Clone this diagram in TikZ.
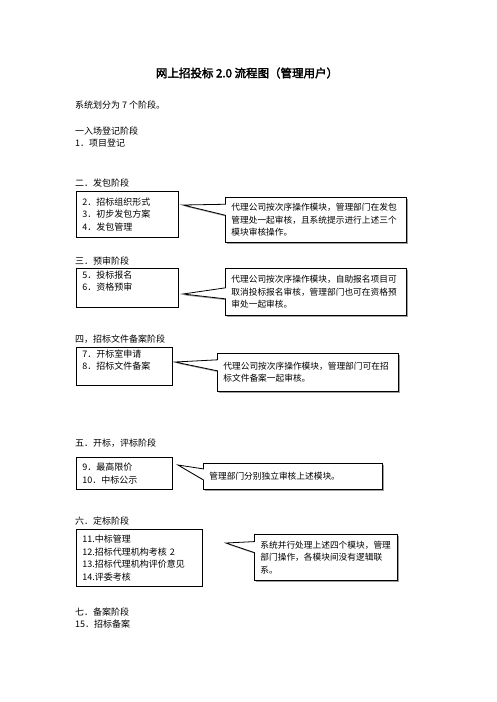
\documentclass[tikz,border=0pt]{standalone}
\usepackage{fontspec}
\newfontfamily\cjk[AutoFakeBold=2.5]{Noto Sans CJK SC}
\usepackage{tikz}
\usetikzlibrary{shapes.callouts, shadows}

\tikzset{
  txt/.style={anchor=west, inner sep=0pt, font=\cjk\fontsize{9}{12.6}\selectfont},
  stagebox/.style={draw, line width=0.9pt, anchor=north west, align=left,
    inner xsep=6pt, inner ysep=2pt, font=\cjk\fontsize{9}{12.6}\selectfont},
  notebox/.style={rectangle callout, draw, line width=0.8pt, fill=white,
    anchor=north west, align=left, inner xsep=6pt, inner ysep=2pt,
    callout pointer width=11pt,
    drop shadow={shadow xshift=1.4pt, shadow yshift=-1.4pt, fill=gray!75, opacity=1},
    font=\cjk\fontsize{8.7}{12.4}\selectfont}
}

\begin{document}
\begin{tikzpicture}[x=1pt, y=-1pt]
  \useasboundingbox (0,0) rectangle (496,702);

  % Title and intro
  \node[anchor=center, font=\cjk\bfseries\fontsize{11.5}{14}\selectfont] (title) at (247,73)
    {网上招投标 2.0 流程图（管理用户）};
  \node[txt] (intro) at (75,105) {系统划分为 7 个阶段。};

  % Stage 1
  \node[txt] (s1) at (75,131) {一入场登记阶段};
  \node[txt] (i1) at (75,143) {1．项目登记};

  % Stage 2
  \node[txt] (s2) at (75,183) {二．发包阶段};
  \node[stagebox, text width=90pt, minimum height=46pt] (b2) at (76,191)
    {2．招标组织形式\\3．初步发包方案\\4．发包管理};
  \coordinate (t2) at (183,205);
  \node[notebox, text width=169pt, minimum height=45pt, callout absolute pointer={(t2)}] (c2) at (225,197)
    {代理公司按次序操作模块，管理部门在发包\\管理处一起审核，且系统提示进行上述三个\\模块审核操作。};

  % Stage 3
  \node[txt] (s3) at (75,261) {三．预审阶段};
  \node[stagebox, text width=90pt, minimum height=39pt] (b3) at (76,268)
    {5．投标报名\\6．资格预审\\[2pt]\mbox{}};
  \coordinate (t3) at (183,294);
  \node[notebox, text width=169pt, minimum height=47pt, callout absolute pointer={(t3)}] (c3) at (225,268)
    {代理公司按次序操作模块，自助报名项目可\\取消投标报名审核，管理部门也可在资格预\\审处一起审核。};

  % Stage 4
  \node[txt] (s4) at (75,339) {四，招标文件备案阶段};
  \node[stagebox, text width=84pt, minimum height=38pt] (b4) at (76,347)
    {7．开标室申请\\8．招标文件备案\\[1pt]\mbox{}};
  \coordinate (t4) at (175,362);
  \node[notebox, text width=169pt, minimum height=38pt, callout absolute pointer={(t4)}] (c4) at (217,353)
    {代理公司按次序操作模块，管理部门可在招\\标文件备案一起审核。};

  % Stage 5
  \node[txt] (s5) at (75,443) {五．开标，评标阶段};
  \node[stagebox, text width=84pt, minimum height=32pt] (b5) at (76,457)
    {9．最高限价\\10．中标公示};
  \coordinate (t5) at (178,465);
  \node[notebox, text width=167pt, minimum height=26pt, callout absolute pointer={(t5)}] (c5) at (203,463)
    {管理部门分别独立审核上述模块。};

  % Stage 6
  \node[txt] (s6) at (75,521) {六．定标阶段};
  \node[stagebox, text width=114pt, minimum height=57pt] (b6) at (76,529)
    {11.中标管理\\12.招标代理机构考核 2\\13.招标代理机构评价意见\\14.评委考核};
  \coordinate (t6) at (226,543);
  \node[notebox, text width=131pt, minimum height=46pt, callout absolute pointer={(t6)}] (c6) at (254,534)
    {系统并行处理上述四个模块，管理\\部门操作，各模块间没有逻辑联\\系。};

  % Stage 7
  \node[txt] (s7) at (75,612) {七．备案阶段};
  \node[txt] (i15) at (75,624) {15．招标备案};
\end{tikzpicture}
\end{document}
